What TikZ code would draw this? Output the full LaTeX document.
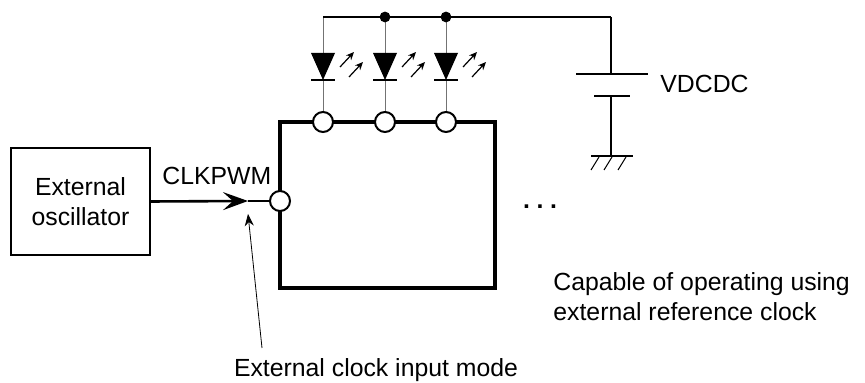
\documentclass[tikz,border=0pt]{standalone}
\usepackage{fontspec}
\setmainfont{Liberation Sans}
\usetikzlibrary{arrows.meta}

\begin{document}
\begin{tikzpicture}[x=0.5pt, y=-0.5pt,
    every node/.style={font=\fontsize{12.4}{15}\selectfont, inner sep=0pt},
    wire/.style={line width=1pt},
    ledwire/.style={line width=0.5pt, color=black!55},
    pinc/.style={circle, draw, fill=white, line width=1pt, minimum size=10pt},
    glow/.style={line width=0.6pt, -{Stealth[length=4pt, width=3.5pt]}}]
      \useasboundingbox (0,0) rectangle (865,383);

      \node[draw, line width=1pt, minimum width=69.5pt, minimum height=53.5pt, align=center] (osc) at (80.5,201.5) {External\\oscillator};
      \node[draw, line width=2.2pt, minimum width=107.5pt, minimum height=83pt] (chip) at (387.5,205) {};

      \node[pinc] (clkpin) at (280,201) {};
      \coordinate (tip) at (248,201);
      \draw[line width=1.3pt, -{Stealth[length=12.5pt, width=9pt, inset=5pt]}] (osc.east) -- (tip);
      \draw[line width=1.3pt] (tip) -- (clkpin);
      \node[anchor=base west] (clklabel) at (162,185) {CLKPWM};

      \coordinate (lead) at (262,348);
      \coordinate (leadtip) at (248,214);
      \draw[line width=0.4pt, -{Stealth[length=6pt, width=4.5pt]}] (lead) -- (leadtip);
      \node[anchor=base] (modelabel) at (376,377) {External clock input mode};

      \coordinate (vtop) at (611,17);
      \draw[wire] (323,17) -- (vtop);
        \foreach \x [count=\i] in {323, 385, 446} {
          \node[pinc] (pin\i) at (\x,122) {};
          \coordinate (anode\i) at (\x,53);
          \coordinate (cath\i) at (\x,80);
          \draw[ledwire] (\x,18) -- (anode\i);
          \draw[ledwire] (cath\i) -- (pin\i);
          \fill (\x-12,53) -- (\x+12,53) -- (cath\i) -- cycle;
          \draw[line width=0.6pt] (\x-12,80) -- (\x+12,80);
          \draw[glow] (\x+17,67) -- (\x+31,52);
          \draw[glow] (\x+26,77) -- (\x+40,62);
      }
      \fill (385,17) circle (2.7pt);
      \fill (446,17) circle (2.7pt);

      \coordinate (batp) at (611,74);
      \coordinate (batn) at (611,96);
      \coordinate (gnd) at (611,156);
      \draw[wire] (vtop) -- (batp);
      \draw[wire] (576,74) -- (648,74);
      \draw[wire] (594,96) -- (630,96);
      \draw[wire] (batn) -- (gnd);
      \draw[wire] (591,156) -- (633,156);
        \foreach \x in {591, 604, 618} {
          \draw[line width=0.5pt] (\x,170) -- (\x+8,157);
      }
      \node[anchor=base west] (vlabel) at (660,93) {VDCDC};

      \node[anchor=base] (more) at (540,209) {\bfseries .\hspace{3.3pt}.\hspace{3.3pt}.};
      \node[anchor=north west, align=left] (note) at (553,272) {Capable of operating using\\external reference clock};
\end{tikzpicture}
\end{document}
